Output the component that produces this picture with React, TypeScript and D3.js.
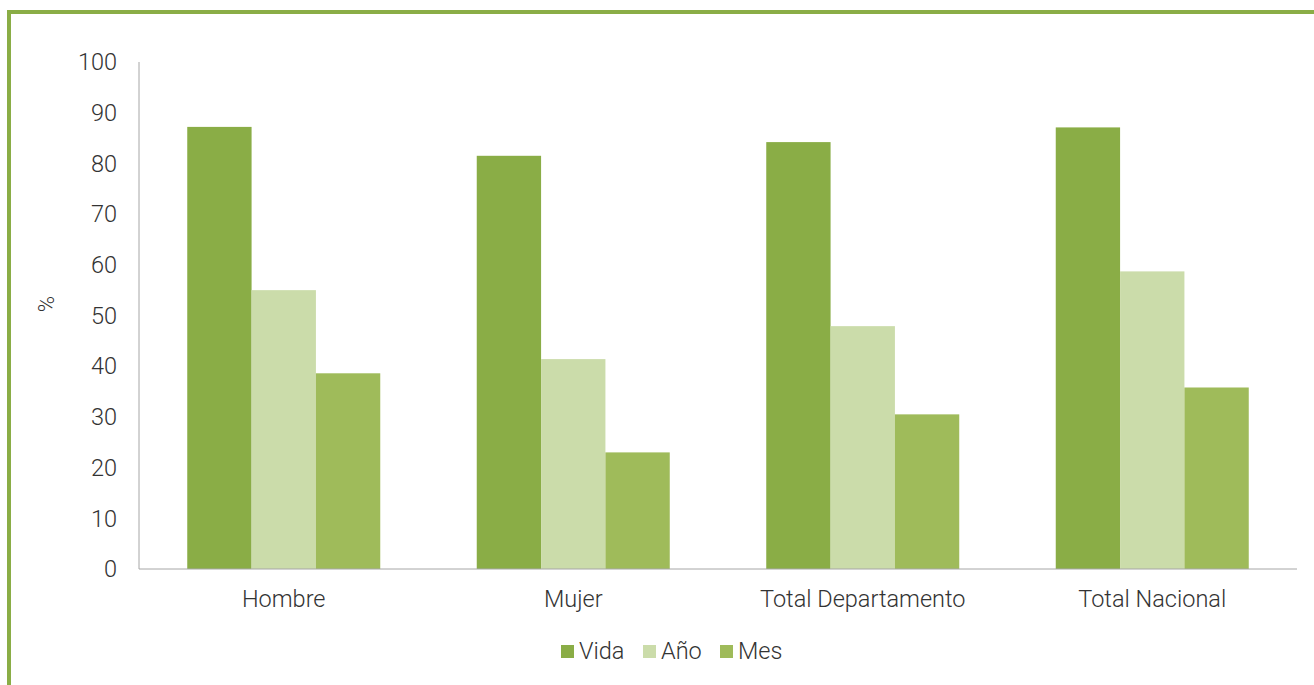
import { useEffect, useRef } from "react";
import * as d3 from "d3";

const categories = ["Hombre", "Mujer", "Total Departamento", "Total Nacional"];
const seriesNames = ["Vida", "Año", "Mes"];
const vida = [87.2, 81.5, 84.2, 87.1];
const anio = [55.0, 41.4, 47.9, 58.7];
const mes = [38.6, 23.0, 30.5, 35.8];
const yTicks = [0, 10, 20, 30, 40, 50, 60, 70, 80, 90, 100];

const colors = ["#8aad46", "#cbdcaa", "#9fbb5a"];

const width = 1314;
const height = 685;

export default function App() {
  const ref = useRef<HTMLDivElement | null>(null);

  useEffect(() => {
    if (!ref.current) return;
    document.body.style.margin = "0";

    d3.select(ref.current).selectAll("svg").remove();

    const svg = d3
      .select(ref.current)
      .append("svg")
      .attr("width", width)
      .attr("height", height)
      .style("display", "block")
      .style("font-family", "Roboto")
      .style("font-weight", "300");

    // green frame, open on right and bottom
    svg
      .append("rect")
      .attr("x", 9)
      .attr("y", 12)
      .attr("width", width + 20)
      .attr("height", height + 20)
      .attr("fill", "#fff")
      .attr("stroke", "#8aad46")
      .attr("stroke-width", 4);

    const left = 139;
    const right = 1297;
    const top = 62;
    const bottom = 569;
    const fs = "23.5px";
    const txt = "#333333";

    const y = d3.scaleLinear([0, 100], [bottom, top]);
    const x0 = d3.scaleBand(categories, [left, right]);
    const gap = x0.bandwidth() / 3;
    const x1 = d3.scaleBand(seriesNames, [gap / 2, x0.bandwidth() - gap / 2]);

    const rows = categories.map((c, i) => ({
      cat: c,
      values: [vida[i], anio[i], mes[i]],
    }));

    const groups = svg
      .append("g")
      .selectAll("g")
      .data(rows)
      .join("g")
      .attr("transform", (d) => `translate(${x0(d.cat)},0)`);

    groups
      .selectAll("rect")
      .data((d) => d.values.map((v, j) => ({ v, s: seriesNames[j], j })))
      .join("rect")
      .attr("x", (d) => x1(d.s) ?? 0)
      .attr("width", x1.bandwidth())
      .attr("y", (d) => y(d.v))
      .attr("height", (d) => bottom - y(d.v))
      .attr("fill", (d) => colors[d.j]);

    // axes lines
    svg
      .append("line")
      .attr("x1", left)
      .attr("x2", left)
      .attr("y1", top)
      .attr("y2", bottom)
      .attr("stroke", "#a6a6a6")
      .attr("stroke-width", 1);
    svg
      .append("line")
      .attr("x1", left)
      .attr("x2", right)
      .attr("y1", bottom)
      .attr("y2", bottom)
      .attr("stroke", "#a6a6a6")
      .attr("stroke-width", 1);

    // y tick labels
    svg
      .append("g")
      .selectAll("text")
      .data(yTicks)
      .join("text")
      .attr("x", 117)
      .attr("y", (d) => y(d))
      .attr("dy", "0.35em")
      .attr("text-anchor", "end")
      .attr("font-size", fs)
      .attr("fill", txt)
      .text((d) => d);

    // x labels
    svg
      .append("g")
      .selectAll("text")
      .data(categories)
      .join("text")
      .attr("x", (d) => (x0(d) ?? 0) + x0.bandwidth() / 2)
      .attr("y", 599)
      .attr("dy", "0.35em")
      .attr("text-anchor", "middle")
      .attr("font-size", fs)
      .attr("fill", txt)
      .text((d) => d);

    // y title
    svg
      .append("text")
      .attr("transform", `translate(46,304) rotate(-90)`)
      .attr("text-anchor", "middle")
      .attr("dy", "0.35em")
      .attr("font-size", "22px")
      .attr("fill", txt)
      .text("%");

    // legend
    const legendX = [561, 643, 720];
    const legend = svg
      .append("g")
      .selectAll("g")
      .data(seriesNames)
      .join("g")
      .attr("transform", (d, i) => `translate(${legendX[i]},645)`);
    legend
      .append("rect")
      .attr("width", 13)
      .attr("height", 13)
      .attr("fill", (d, i) => colors[i]);
    legend
      .append("text")
      .attr("x", 18)
      .attr("y", 5.5)
      .attr("dy", "0.35em")
      .attr("font-size", fs)
      .attr("fill", txt)
      .text((d) => d);
  }, []);

  return <div ref={ref}></div>;
}
